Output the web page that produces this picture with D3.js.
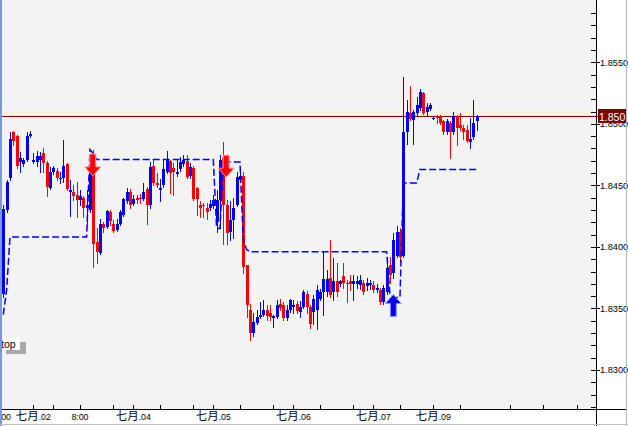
<!DOCTYPE html>
<html><head><meta charset="utf-8">
<script src="https://cdn.jsdelivr.net/npm/d3@7"></script>
<style>html,body{margin:0;padding:0;background:#fff}svg{display:block}</style>
</head><body>
<script>
// ---- data ----
const open  = [1.8362,1.8430,1.8456,1.8493,1.8490,1.8469,1.8467,1.8471,1.8490,1.8469,1.8469,1.8471,1.8476,1.8468,1.8448,1.8461,1.8462,1.8455,1.8456,1.8467,1.8445,1.8445,1.8442,1.8438,1.8440,1.8432,1.8430,1.8472,1.8404,1.8395,1.8419,1.8416,1.8428,1.8419,1.8414,1.8419,1.8426,1.8437,1.8445,1.8435,1.8440,1.8440,1.8439,1.8447,1.8434,1.8466,1.8452,1.8446,1.8450,1.8461,1.8470,1.8464,1.8459,1.8463,1.8467,1.8470,1.8458,1.8464,1.8448,1.8434,1.8434,1.8432,1.8432,1.8433,1.8420,1.8438,1.8472,1.8434,1.8412,1.8422,1.8434,1.8454,1.8458,1.8385,1.8349,1.8330,1.8338,1.8343,1.8345,1.8349,1.8346,1.8342,1.8343,1.8354,1.8353,1.8342,1.8349,1.8351,1.8354,1.8347,1.8351,1.8362,1.8351,1.8347,1.8349,1.8358,1.8363,1.8363,1.8375,1.8363,1.8372,1.8370,1.8376,1.8371,1.8372,1.8370,1.8370,1.8369,1.8371,1.8368,1.8369,1.8369,1.8365,1.8365,1.8355,1.8363,1.8385,1.8379,1.8393,1.8412,1.8393,1.8493,1.8509,1.8503,1.8509,1.8513,1.8525,1.8510,1.8512,1.8504,1.8506,1.8506,1.8502,1.8493,1.8501,1.8493,1.8506,1.8499,1.8497,1.8495,1.8485,1.8489,1.8502];
const high  = [1.8434,1.8454,1.8493,1.8494,1.8491,1.8477,1.8472,1.8493,1.8494,1.8476,1.8478,1.8477,1.8480,1.8470,1.8465,1.8466,1.8464,1.8461,1.8487,1.8468,1.8454,1.8450,1.8453,1.8446,1.8441,1.8446,1.8471,1.8479,1.8415,1.8423,1.8420,1.8430,1.8430,1.8422,1.8423,1.8430,1.8440,1.8448,1.8447,1.8442,1.8442,1.8443,1.8452,1.8449,1.8469,1.8471,1.8460,1.8455,1.8471,1.8478,1.8471,1.8468,1.8471,1.8473,1.8475,1.8475,1.8468,1.8466,1.8449,1.8437,1.8436,1.8436,1.8438,1.8442,1.8446,1.8475,1.8485,1.8438,1.8437,1.8440,1.8461,1.8462,1.8461,1.8385,1.8354,1.8346,1.8349,1.8355,1.8357,1.8353,1.8353,1.8345,1.8357,1.8358,1.8355,1.8353,1.8358,1.8357,1.8356,1.8356,1.8365,1.8364,1.8353,1.8361,1.8369,1.8366,1.8396,1.8381,1.8406,1.8391,1.8387,1.8373,1.8387,1.8373,1.8377,1.8377,1.8376,1.8377,1.8373,1.8375,1.8373,1.8372,1.8370,1.8367,1.8369,1.8392,1.8392,1.8411,1.8417,1.8415,1.8538,1.8519,1.8531,1.8511,1.8522,1.8528,1.8526,1.8517,1.8517,1.8506,1.8507,1.8507,1.8503,1.8504,1.8502,1.8510,1.8507,1.8509,1.8499,1.8499,1.8505,1.8519,1.8507];
const low   = [1.8359,1.8428,1.8454,1.8483,1.8464,1.8461,1.8466,1.8470,1.8489,1.8468,1.8466,1.8461,1.8461,1.8441,1.8447,1.8459,1.8454,1.8452,1.8453,1.8446,1.8425,1.8438,1.8424,1.8434,1.8424,1.8419,1.8428,1.8384,1.8387,1.8394,1.8412,1.8415,1.8418,1.8412,1.8413,1.8418,1.8425,1.8436,1.8432,1.8434,1.8436,1.8436,1.8438,1.8419,1.8432,1.8450,1.8449,1.8437,1.8449,1.8460,1.8444,1.8442,1.8458,1.8462,1.8466,1.8456,1.8456,1.8438,1.8426,1.8424,1.8424,1.8423,1.8430,1.8432,1.8412,1.8415,1.8402,1.8402,1.8406,1.8407,1.8433,1.8453,1.8379,1.8343,1.8324,1.8328,1.8337,1.8342,1.8344,1.8341,1.8341,1.8335,1.8342,1.8349,1.8341,1.8341,1.8347,1.8346,1.8346,1.8343,1.8350,1.8346,1.8334,1.8337,1.8333,1.8357,1.8345,1.8360,1.8359,1.8357,1.8360,1.8368,1.8367,1.8355,1.8365,1.8357,1.8367,1.8366,1.8362,1.8365,1.8366,1.8363,1.8363,1.8354,1.8354,1.8362,1.8371,1.8375,1.8392,1.8388,1.8392,1.8484,1.8503,1.8484,1.8507,1.8511,1.8508,1.8507,1.8511,1.8504,1.8501,1.8500,1.8492,1.8492,1.8472,1.8492,1.8483,1.8495,1.8488,1.8485,1.8480,1.8488,1.8495];
const close = [1.8431,1.8453,1.8488,1.8486,1.8466,1.8472,1.8471,1.8490,1.8492,1.8471,1.8474,1.8474,1.8468,1.8449,1.8461,1.8464,1.8456,1.8456,1.8466,1.8447,1.8446,1.8441,1.8438,1.8441,1.8432,1.8434,1.8467,1.8402,1.8396,1.8419,1.8415,1.8429,1.8421,1.8413,1.8419,1.8428,1.8439,1.8445,1.8434,1.8439,1.8438,1.8439,1.8445,1.8434,1.8465,1.8452,1.8450,1.8448,1.8463,1.8471,1.8460,1.8461,1.8461,1.8469,1.8471,1.8457,1.8465,1.8439,1.8439,1.8432,1.8433,1.8428,1.8435,1.8438,1.8438,1.8471,1.8434,1.8411,1.8422,1.8432,1.8457,1.8458,1.8384,1.8353,1.8330,1.8339,1.8343,1.8345,1.8349,1.8344,1.8343,1.8344,1.8353,1.8350,1.8342,1.8349,1.8357,1.8353,1.8348,1.8351,1.8363,1.8351,1.8337,1.8358,1.8365,1.8363,1.8374,1.8374,1.8361,1.8372,1.8363,1.8372,1.8371,1.8370,1.8370,1.8372,1.8372,1.8373,1.8363,1.8371,1.8371,1.8365,1.8367,1.8355,1.8367,1.8383,1.8377,1.8406,1.8412,1.8392,1.8493,1.8510,1.8504,1.8510,1.8515,1.8526,1.8509,1.8514,1.8515,1.8505,1.8505,1.8501,1.8493,1.8502,1.8493,1.8506,1.8497,1.8497,1.8493,1.8486,1.8488,1.8501,1.8506];
// trailing stop indicator (dashed), one value per bar
const stopLevel = [1.8345,1.8365,1.8408,1.8408,1.8408,1.8408,1.8408,1.8408,1.8408,1.8408,1.8408,1.8408,1.8408,1.8408,1.8408,1.8408,1.8408,1.8408,1.8408,1.8408,1.8408,1.8408,1.8408,1.8408,1.8408,1.8408,1.8479,1.8476,1.8471,1.8471,1.8471,1.8471,1.8471,1.8471,1.8471,1.8471,1.8471,1.8471,1.8471,1.8471,1.8471,1.8471,1.8471,1.8471,1.8471,1.8471,1.8471,1.8471,1.8471,1.8471,1.8471,1.8471,1.8471,1.8471,1.8471,1.8471,1.8471,1.8471,1.8471,1.8471,1.8471,1.8471,1.8471,1.8471,1.8415,1.8415,1.8469,1.8469,1.8469,1.8469,1.8469,1.8469,1.8406,1.8398,1.8396,1.8396,1.8396,1.8396,1.8396,1.8396,1.8396,1.8396,1.8396,1.8396,1.8396,1.8396,1.8396,1.8396,1.8396,1.8396,1.8396,1.8396,1.8396,1.8396,1.8396,1.8396,1.8396,1.8396,1.8396,1.8396,1.8396,1.8396,1.8396,1.8396,1.8396,1.8396,1.8396,1.8396,1.8396,1.8396,1.8396,1.8396,1.8396,1.8396,1.8396,1.8396,1.8361,1.8359,1.8359,1.8359,1.8452,1.8452,1.8452,1.8452,1.8452,1.8463,1.8463,1.8463,1.8463,1.8463,1.8463,1.8463,1.8463,1.8463,1.8463,1.8463,1.8463,1.8463,1.8463,1.8463,1.8463,1.8463,1.8463];
const sellBars = [27, 67];
const sellPrices = [1.8465, 1.8464];
const buyBars = [117];
const buyPrices = [1.8354];
const priceLabels = [1.8300, 1.8350, 1.8400, 1.8450, 1.8500, 1.8550];
const minorTickPrices = d3.range(18270, 18600, 10).map(v => v / 10000);
const timeTickBars = [-1, 9, 15, 23, 33, 39, 47, 57, 63, 71, 81, 87, 95, 105, 111, 119, 129, 137, 152, 162, 172];
const timeLabelBars = [-1, 9, 23, 39, 63, 87, 111, 129];
const timeLabelCJK = ["", "七月", "", "七月", "七月", "七月", "七月", "七月"];
const timeLabelTxt = ["16:00", ".02", "8:00", ".04", ".05", ".06", ".07", ".09"];
const markerLabel = "top";

// ---- layout ----
const W = 628, H = 426, plotR = 596, plotB = 409;
const svg = d3.select("body").append("svg").attr("width", W).attr("height", H);
svg.append("rect").attr("width", W).attr("height", H).attr("fill", "#ffffff");
svg.append("rect").attr("x", 0).attr("y", 0).attr("width", plotR).attr("height", plotB).attr("fill", "#f3f3f3");

const x = d3.scaleLinear().domain([0, 177]).range([3.3, 593.3]);
const y = d3.scaleLinear().domain([1.8300, 1.8550]).range([370, 62.3]);

svg.append("clipPath").attr("id", "pc").append("rect").attr("x", 0).attr("y", 0).attr("width", plotR).attr("height", plotB);
const plot = svg.append("g").attr("clip-path", "url(#pc)");

// bid line with band
const last = close[close.length - 1];
const yl = Math.round(y(last));
plot.append("rect").attr("x", 0).attr("y", yl - 5).attr("width", plotR).attr("height", 5).attr("fill", "#f6f1dc");
plot.append("line").attr("x1", 0).attr("x2", plotR).attr("y1", yl + 0.5).attr("y2", yl + 0.5)
  .attr("stroke", "#800000").attr("stroke-width", 1);

// candles
const bars = d3.range(open.length);
const px = i => Math.round(x(i));
const col = i => close[i] >= open[i] ? "#0000ff" : "#ff0000";
const cg = plot.append("g").attr("shape-rendering", "crispEdges");
cg.selectAll("line.w").data(bars).join("line")
  .attr("x1", i => px(i) + 0.5).attr("x2", i => px(i) + 0.5)
  .attr("y1", i => Math.round(y(high[i]))).attr("y2", i => Math.round(y(low[i])) + 1)
  .attr("stroke", col).attr("stroke-width", 1);
cg.selectAll("rect.b").data(bars).join("rect")
  .attr("x", i => px(i) - 1).attr("width", 3)
  .attr("y", i => Math.round(y(Math.max(open[i], close[i]))))
  .attr("height", i => Math.max(1, Math.round(y(Math.min(open[i], close[i]))) - Math.round(y(Math.max(open[i], close[i])))))
  .attr("fill", col);

// dashed stop line
const line = d3.line().x((d, i) => x(i)).y(d => y(d));
plot.append("path").attr("d", line(stopLevel)).attr("fill", "none")
  .attr("stroke", "#0000ff").attr("stroke-width", 1.5).attr("stroke-dasharray", "7,3");

// arrows
sellBars.forEach((b, k) => {
  const cx = x(b) - 0.5, cy = y(sellPrices[k]);
  plot.append("path")
    .attr("d", `M${cx-3},${cy-13}H${cx+3}V${cy}H${cx+8}L${cx},${cy+9}L${cx-8},${cy}H${cx-3}Z`)
    .attr("fill", "#ff0000").attr("stroke", "#ff9a9a").attr("stroke-width", 1);
});
buyBars.forEach((b, k) => {
  const cx = x(b), cy = y(buyPrices[k]);
  plot.append("path")
    .attr("d", `M${cx-3},${cy+13}H${cx+3}V${cy}H${cx+8}L${cx},${cy-9}L${cx-8},${cy}H${cx-3}Z`)
    .attr("fill", "#0000ff").attr("stroke", "#9a9aff").attr("stroke-width", 1);
});

// "top" marker
plot.append("line").attr("x1", 3).attr("y1", 303).attr("x2", 20).attr("y2", 337)
  .attr("stroke", "#ffffff").attr("stroke-width", 1).attr("stroke-dasharray", "1,1");
plot.append("rect").attr("x", 6).attr("y", 342).attr("width", 20).attr("height", 12).attr("fill", "#a8a8a8");
plot.append("rect").attr("x", 0).attr("y", 337).attr("width", 20).attr("height", 13).attr("fill", "#ffffff");
plot.append("text").attr("x", 1).attr("y", 347.5).attr("font-family", "Liberation Sans, Arial, sans-serif")
  .attr("font-size", 10.5).attr("fill", "#000").text(markerLabel);

// axes lines
const ax = svg.append("g").attr("shape-rendering", "crispEdges");
ax.append("line").attr("x1", plotR + 0.5).attr("x2", plotR + 0.5).attr("y1", 0).attr("y2", H).attr("stroke", "#000");
ax.append("line").attr("x1", 0).attr("x2", 626).attr("y1", plotB + 0.5).attr("y2", plotB + 0.5).attr("stroke", "#000");

// y ticks
ax.selectAll("line.mt").data(minorTickPrices).join("line")
  .attr("x1", plotR - 5).attr("x2", plotR)
  .attr("y1", d => Math.round(y(d)) + 0.5).attr("y2", d => Math.round(y(d)) + 0.5).attr("stroke", "#000");
ax.selectAll("line.lt").data(priceLabels).join("line")
  .attr("x1", plotR).attr("x2", plotR + 4)
  .attr("y1", d => Math.round(y(d)) + 0.5).attr("y2", d => Math.round(y(d)) + 0.5).attr("stroke", "#000");
svg.selectAll("text.yl").data(priceLabels).join("text")
  .attr("x", 600).attr("y", d => y(d) + 3.3)
  .attr("font-family", "Liberation Sans, Arial, sans-serif").attr("font-size", 9.2).attr("fill", "#000")
  .text(d => d3.format(".4f")(d));

// x ticks
ax.selectAll("line.xt").data(timeTickBars).join("line")
  .attr("x1", i => px(i) + 0.5).attr("x2", i => px(i) + 0.5)
  .attr("y1", plotB - 4).attr("y2", plotB).attr("stroke", "#000");
timeLabelBars.forEach((b, k) => {
  const t = svg.append("text").attr("x", x(b)).attr("y", 419.5).attr("text-anchor", "middle").attr("fill", "#000");
  if (timeLabelCJK[k]) t.append("tspan").attr("font-family", "Noto Sans CJK SC").attr("font-size", 11.5).text(timeLabelCJK[k]);
  t.append("tspan").attr("font-family", "Liberation Sans, Arial, sans-serif").attr("font-size", 8.8).text(timeLabelTxt[k]);
});

// price tag
const tag = svg.append("g");
tag.append("rect").attr("x", 598).attr("y", yl - 7).attr("width", 28).attr("height", 14).attr("fill", "#800000");
tag.append("line").attr("x1", 591).attr("x2", 598).attr("y1", yl + 0.5).attr("y2", yl + 0.5).attr("stroke", "#800000");
tag.append("text").attr("x", 599).attr("y", yl + 4.5).attr("font-family", "Liberation Sans, Arial, sans-serif")
  .attr("font-size", 10.5).attr("fill", "#ffffff").text(d3.format(".4f")(last).slice(0, 5));

// window frame
const fr = svg.append("g").attr("shape-rendering", "crispEdges");
fr.append("rect").attr("x", 0).attr("y", 0).attr("width", 2).attr("height", H).attr("fill", "#7b98dc");
fr.append("line").attr("x1", 626.5).attr("x2", 626.5).attr("y1", 0).attr("y2", H).attr("stroke", "#a9b8d6");
fr.append("line").attr("x1", 0).attr("x2", W).attr("y1", 424.5).attr("y2", 424.5).attr("stroke", "#c0c0c0");
</script>
</body></html>
